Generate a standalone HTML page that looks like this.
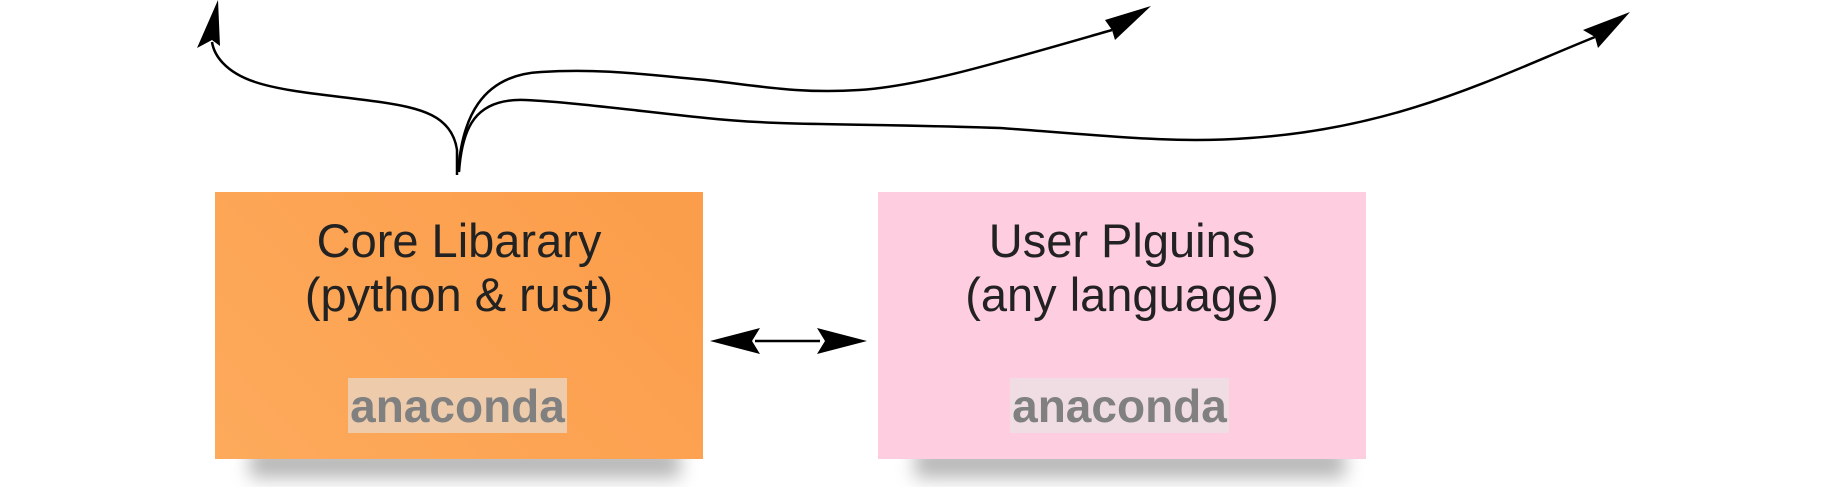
<!DOCTYPE html>
<html><head><meta charset="utf-8"><style>
html,body{margin:0;padding:0;background:#fff;width:1845px;height:487px;overflow:hidden;font-family:"Liberation Sans",sans-serif}
.box{position:absolute;width:488px;height:267px;top:192px}
.t{position:absolute;left:-20px;right:-20px;text-align:center;font-size:47px;line-height:54px;color:#222;top:22px}
.logo{position:absolute;width:219px;height:55px;top:186px;font-weight:bold;font-size:46px;color:#808080;text-align:center;line-height:56px;letter-spacing:0px}
.sh{position:absolute;height:30px;background:#888;filter:blur(9px);opacity:.6}
</style></head><body>
<div class="sh" style="left:250px;top:448px;width:430px"></div>
<div class="sh" style="left:915px;top:448px;width:430px"></div>
<div class="box" style="left:215px;background:linear-gradient(225deg,#fb9d4a,#fdaa5c)">
<div class="t">Core Libarary<br>(python &amp; rust)</div>
<div class="logo" style="left:133px;background:#eeccab">anaconda</div>
</div>
<div class="box" style="left:878px;background:#ffcde0">
<div class="t">User Plguins<br>(any language)</div>
<div class="logo" style="left:132px;background:#efdde3">anaconda</div>
</div>
<svg width="1845" height="487" style="position:absolute;left:0;top:0" fill="none" stroke="#000" stroke-width="2.5">
<path d="M457 175 L457 150 C452 115 420 108 380 102 C330 95 285 92 255 82 C225 72 214 55 212 42"/>
<polygon points="197,48 218,0 220,46 212,40" fill="#000" stroke="none"/>
<path d="M458 172 C462 120 480 75 541 72 C600 68 650 75 706 80 C760 86 800 94 859 90 C920 86 990 65 1112 30"/>
<polygon points="1105,20 1151,6 1115,40 1112,30" fill="#000" stroke="none"/>
<path d="M459 172 C462 128 475 98 525 100 C570 102 630 110 706 118 C780 126 850 123 1000 128 C1100 135 1170 144 1250 138 C1400 128 1500 75 1595 37"/>
<polygon points="1583,30 1630,12 1598,48 1595,37" fill="#000" stroke="none"/>
<line x1="755" y1="341" x2="820" y2="341"/>
<polygon points="710,341 760,328 752,341 760,354" fill="#000" stroke="none"/>
<polygon points="867,341 817,328 825,341 817,354" fill="#000" stroke="none"/>
</svg>
</body></html>
